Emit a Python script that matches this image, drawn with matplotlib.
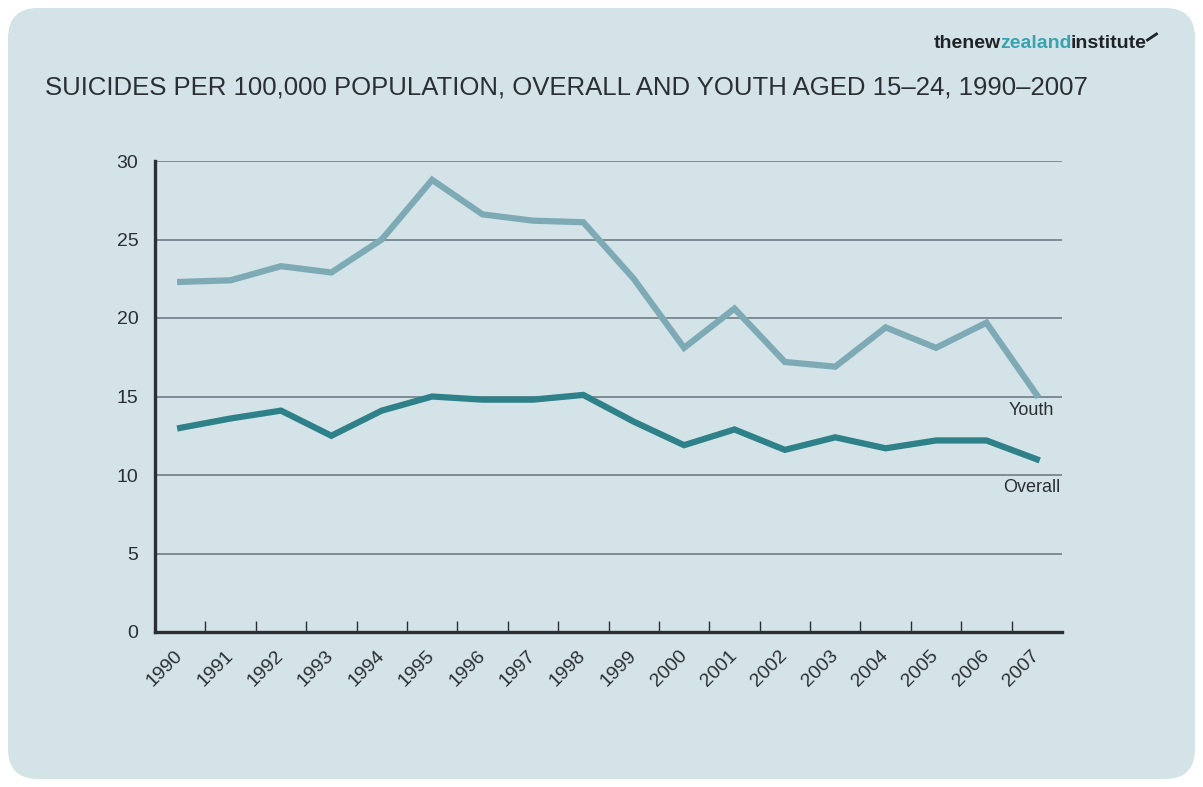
import matplotlib.pyplot as plt
from matplotlib.patches import FancyBboxPatch
from matplotlib.transforms import ScaledTranslation

# Suicides per 100,000 population, New Zealand
years = ['1990', '1991', '1992', '1993', '1994', '1995', '1996', '1997', '1998',
         '1999', '2000', '2001', '2002', '2003', '2004', '2005', '2006', '2007']
youth = [22.3, 22.4, 23.3, 22.9, 25.0, 28.8, 26.6, 26.2, 26.1,
         22.5, 18.1, 20.6, 17.2, 16.9, 19.4, 18.1, 19.7, 15.1]
overall = [13.0, 13.6, 14.1, 12.5, 14.1, 15.0, 14.8, 14.8, 15.1,
           13.4, 11.9, 12.9, 11.6, 12.4, 11.7, 12.2, 12.2, 11.0]

bg = '#d3e3e8'
youth_col = '#7eaab5'
overall_col = '#2f8189'
grid_col = '#7d8d93'
text_col = '#2b2f33'

plt.rcParams['font.family'] = ['Liberation Sans', 'DejaVu Sans']

W, H = 1203, 787
fig = plt.figure(figsize=(W / 100, H / 100), dpi=100, facecolor='white')

# rounded light-blue panel behind everything
panel = FancyBboxPatch((8 / W, 8 / H), (W - 16) / W, (H - 16) / H,
                       boxstyle='round,pad=0,rounding_size=0.025',
                       transform=fig.transFigure, facecolor=bg,
                       edgecolor='none', mutation_aspect=W / H, zorder=-5)
fig.patches.append(panel)

ax = fig.add_axes([155 / W, (H - 632) / H, (1062 - 155) / W, (632 - 161) / H])
ax.set_facecolor('none')
ax.set_zorder(2)

x = list(range(len(years)))
ax.plot(x, youth, color=youth_col, lw=4.5, solid_joinstyle='miter', zorder=3)
ax.plot(x, overall, color=overall_col, lw=4.5, solid_joinstyle='miter', zorder=3)

ax.set_xlim(-0.5, len(years) - 0.5)
ax.set_ylim(0, 30)

for v in range(5, 31, 5):
    ax.axhline(v, color=grid_col, lw=1.4, zorder=1)

for s in ['top', 'right']:
    ax.spines[s].set_visible(False)
for s in ['left', 'bottom']:
    ax.spines[s].set_color(text_col)
    ax.spines[s].set_linewidth(2.4)
    ax.spines[s].set_zorder(4)

ax.set_yticks(range(0, 31, 5))
ax.tick_params(axis='y', length=0, pad=12, labelsize=14, labelcolor=text_col)

ax.set_xticks(x)
ax.set_xticklabels(years, rotation=45, ha='right', va='top',
                   rotation_mode='anchor', fontsize=14, color=text_col)
ax.tick_params(axis='x', which='major', length=0, pad=11)
shift = ScaledTranslation(-6 / 100, 0, fig.dpi_scale_trans)
for lab in ax.get_xticklabels():
    lab.set_transform(lab.get_transform() + shift)
ax.set_xticks([i + 0.5 for i in x[:-1]], minor=True)
ax.tick_params(axis='x', which='minor', direction='in', length=8,
               width=1, color=text_col)

ax.text(len(years) - 1.1, 14.1, 'Youth', fontsize=13, color=text_col,
        ha='center', va='center')
ax.text(len(years) - 1.1, 9.2, 'Overall', fontsize=13, color=text_col,
        ha='center', va='center')

fig.text(45 / W, 1 - 88 / H,
         'SUICIDES PER 100,000 POPULATION, OVERALL AND YOUTH AGED 15\u201324, 1990\u20132007',
         fontsize=18.5, color=text_col, ha='left', va='center')

# logo wordmark, pieces laid end to end
renderer = fig.canvas.get_renderer()
xpos = 934 / W
for word, col in [('thenew', '#1f2326'), ('zealand', '#3aa3b0'), ('institute', '#1f2326')]:
    t = fig.text(xpos, 1 - 44 / H, word, fontsize=14, fontweight='bold',
                 color=col, ha='left', va='center')
    bb = t.get_window_extent(renderer)
    xpos += bb.width / W - 1 / W
fig.add_artist(plt.Line2D([xpos + 2 / W, xpos + 11 / W],
                          [1 - 40 / H, 1 - 34 / H],
                          transform=fig.transFigure, color='#1f2326', lw=2))

fig.savefig('out.png', dpi=100, facecolor='white')
